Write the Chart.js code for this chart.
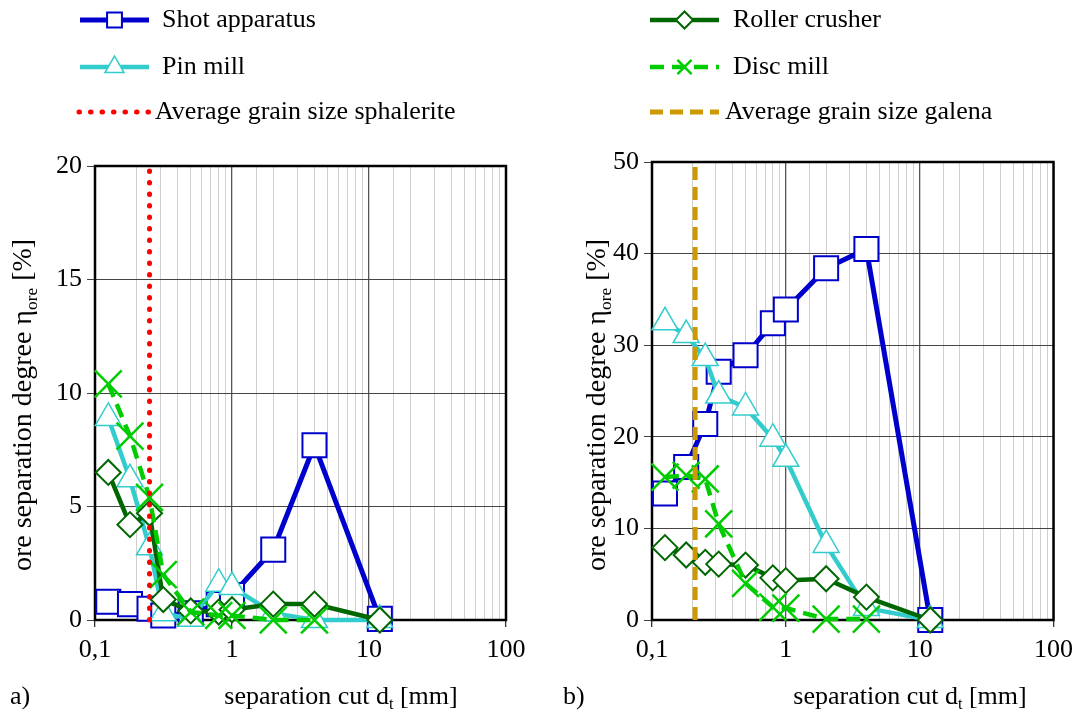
<!DOCTYPE html>
<html>
<head>
<meta charset="utf-8">
<script src="https://cdn.jsdelivr.net/npm/chart.js@4.4.1/dist/chart.umd.min.js"></script>
<style>
  html, body { margin: 0; padding: 0; background: #fff; }
  #wrap { position: relative; width: 1081px; height: 715px; }
  #left { position: absolute; left: 0; top: 0; }
  #right { position: absolute; left: 540px; top: 0; }
</style>
</head>
<body>
<div id="wrap">
  <canvas id="left" width="540" height="715"></canvas>
  <canvas id="right" width="541" height="715"></canvas>
</div>
<script>
// separation cuts d_t [mm]
const sizes = [0.125, 0.18, 0.25, 0.315, 0.5, 0.8, 1, 2, 4, 12];

// a) sphalerite, ore separation degree [%]
const shotA = [0.8, 0.7, 0.5, 0.2, 0.3, 0.7, 1.1, 3.1, 7.7, 0.05];
const pinA = [8.9, 6.2, 3.2, 0.3, 0.05, 1.6, 1.45, 0.3, 0.0, 0.0];
const rollerA = [6.5, 4.2, 4.7, 0.9, 0.4, 0.35, 0.45, 0.7, 0.7, 0.0];
const discA = [10.4, 8.1, 5.4, 2.0, 0.35, 0.2, 0.2, 0.0, 0.0];
const grainSphalerite = 0.25;

// b) galena
const shotB = [13.8, 16.7, 21.4, 27.1, 28.9, 32.4, 33.9, 38.4, 40.5, 0.0];
const pinB = [32.5, 31.1, 28.6, 24.5, 23.2, 19.8, 17.6, 8.2, 1.3, 0.0];
const rollerB = [7.9, 7.1, 6.3, 6.1, 6.0, 4.6, 4.3, 4.5, 2.5, 0.0];
const discB = [15.6, 15.8, 15.4, 10.5, 4.0, 1.4, 1.3, 0.1, 0.1];
const grainGalena = 0.21;

const FONT = "'Liberation Serif', 'Times New Roman', serif";
Chart.defaults.font.family = FONT;
Chart.defaults.font.size = 26;
Chart.defaults.color = '#000';

function pts(arr) {
  return arr.map((v, i) => ({ x: sizes[i], y: v }));
}

function isDecade(v) {
  const l = Math.log10(v);
  return Math.abs(l - Math.round(l)) < 1e-6;
}

function seriesSets(shot, pin, roller, disc, grain, ymax, lineName, lineColor, lineDash, lineCap) {
  return [
    {
      label: 'Shot apparatus', data: pts(shot), order: 4,
      borderColor: '#0000CC', borderWidth: 5,
      pointStyle: 'rect', pointRadius: 17, pointBorderWidth: 2,
      pointBackgroundColor: '#fff', pointBorderColor: '#0000CC', legendRadius: 10.5
    },
    {
      label: 'Pin mill', data: pts(pin), order: 3,
      borderColor: '#33CCCC', borderWidth: 4.5,
      pointStyle: 'triangle', pointRadius: 15, pointBorderWidth: 1.5,
      pointBackgroundColor: '#fff', pointBorderColor: '#33CCCC', legendRadius: 11
    },
    {
      label: 'Roller crusher', data: pts(roller), order: 2,
      borderColor: '#006600', borderWidth: 4.5,
      pointStyle: 'rectRot', pointRadius: 12.5, pointBorderWidth: 2,
      pointBackgroundColor: '#fff', pointBorderColor: '#006600', legendRadius: 8.5
    },
    {
      label: 'Disc mill', data: pts(disc), order: 1,
      borderColor: '#00CC00', borderWidth: 4.5, borderDash: [14, 8],
      pointStyle: 'crossRot', pointRadius: 19, pointBorderWidth: 2.5,
      pointBackgroundColor: '#00CC00', pointBorderColor: '#00CC00', legendRadius: 10
    },
    {
      label: lineName, data: [{ x: grain, y: 0 }, { x: grain, y: ymax }], order: 0,
      borderColor: lineColor, borderWidth: 5, borderDash: lineDash, borderCapStyle: lineCap,
      pointRadius: 0
    }
  ];
}

function drawRich(ctx, parts, x, y, size) {
  let total = 0;
  parts.forEach(p => {
    ctx.font = (p.sub ? size * 0.62 : size) + 'px ' + FONT;
    p.w = ctx.measureText(p.t).width;
    total += p.w;
  });
  let cx = x - total / 2;
  ctx.textAlign = 'left';
  ctx.textBaseline = 'middle';
  parts.forEach(p => {
    ctx.font = (p.sub ? size * 0.62 : size) + 'px ' + FONT;
    ctx.fillText(p.t, cx, y + (p.sub ? size * 0.3 : 0));
    cx += p.w;
  });
}

const decor = {
  id: 'decor',
  beforeDatasetsDraw(chart) {
    const { ctx, chartArea: a } = chart;
    ctx.save();
    ctx.strokeStyle = '#000';
    ctx.lineWidth = 2.5;
    ctx.strokeRect(a.left, a.top, a.right - a.left, a.bottom - a.top);
    ctx.restore();
  },
  afterDraw(chart, args, opts) {
    const ctx = chart.ctx;
    ctx.save();
    ctx.fillStyle = '#000';

    // y title
    ctx.save();
    ctx.translate(opts.yTitleX, opts.yTitleY);
    ctx.rotate(-Math.PI / 2);
    drawRich(ctx, [{ t: 'ore separation degree η' }, { t: 'ore', sub: true }, { t: ' [%]' }], 0, 0, 28);
    ctx.restore();

    // x title and panel tag
    drawRich(ctx, [{ t: 'separation cut d' }, { t: 't', sub: true }, { t: ' [mm]' }], opts.xTitleX, opts.xTitleY, 26);
    ctx.font = '26px ' + FONT;
    ctx.textAlign = 'left';
    ctx.textBaseline = 'middle';
    ctx.fillText(opts.tag, opts.tagX, opts.xTitleY);

    // legend column
    opts.rows.forEach(r => {
      const ds = chart.data.datasets[r.ds];
      ctx.save();
      ctx.strokeStyle = ds.borderColor;
      ctx.lineWidth = ds.borderWidth;
      ctx.lineCap = ds.borderCapStyle || 'butt';
      ctx.setLineDash(ds.borderDash || []);
      ctx.beginPath();
      ctx.moveTo(r.x0, r.y);
      ctx.lineTo(r.x1, r.y);
      ctx.stroke();
      ctx.setLineDash([]);
      if (ds.pointRadius > 0) {
        ctx.fillStyle = ds.pointStyle === 'crossRot' ? ds.pointBorderColor : '#fff';
        ctx.strokeStyle = ds.pointBorderColor;
        ctx.lineWidth = ds.pointBorderWidth;
        Chart.helpers.drawPoint(ctx, {
          pointStyle: ds.pointStyle, rotation: 0,
          radius: ds.legendRadius, borderWidth: ds.pointBorderWidth
        }, (r.x0 + r.x1) / 2, r.y);
      }
      ctx.restore();
      ctx.font = '26px ' + FONT;
      ctx.fillStyle = '#000';
      ctx.textAlign = 'left';
      ctx.textBaseline = 'middle';
      ctx.fillText(ds.label, r.tx, r.y);
    });
    ctx.restore();
  }
};

function makeChart(id, datasets, ymax, step, pad, yWidth, decorOpts) {
  return new Chart(document.getElementById(id), {
    type: 'line',
    data: { datasets },
    plugins: [decor],
    options: {
      responsive: false,
      animation: false,
      events: [],
      devicePixelRatio: 1,
      layout: { padding: pad },
      datasets: { line: { clip: false, tension: 0 } },
      plugins: {
        legend: { display: false },
        tooltip: { enabled: false },
        decor: decorOpts
      },
      scales: {
        x: {
          type: 'logarithmic', min: 0.1, max: 100,
          afterFit: s => { s.height = 95; },
          border: { display: false },
          grid: {
            color: c => (c.tick && isDecade(c.tick.value)) ? '#555' : '#cfcfcf',
            lineWidth: c => (c.tick && isDecade(c.tick.value)) ? 1.3 : 1,
            tickColor: c => (c.tick && isDecade(c.tick.value)) ? '#333' : 'rgba(0,0,0,0)',
            tickLength: 7
          },
          ticks: {
            autoSkip: false, maxRotation: 0, padding: 8,
            callback: v => isDecade(v) ? (v < 1 ? String(v).replace('.', ',') : String(v)) : ''
          }
        },
        y: {
          min: 0, max: ymax,
          afterFit: s => { s.width = yWidth; },
          border: { display: false },
          grid: { color: '#444', lineWidth: 1, tickColor: '#444', tickLength: 8 },
          ticks: { stepSize: step, padding: 5 }
        }
      }
    }
  });
}

makeChart('left',
  seriesSets(shotA, pinA, rollerA, discA, grainSphalerite, 20,
    'Average grain size sphalerite', '#FF0000', [0.5, 11], 'round'),
  20, 5, { top: 166, right: 34, left: 0, bottom: 0 }, 95,
  {
    yTitleX: 24, yTitleY: 405, xTitleX: 341, xTitleY: 697, tag: 'a)', tagX: 10,
    rows: [
      { ds: 0, y: 20, x0: 80, x1: 149, tx: 162 },
      { ds: 1, y: 67, x0: 80, x1: 149, tx: 162 },
      { ds: 4, y: 112, x0: 79, x1: 149, tx: 155 }
    ]
  });

makeChart('right',
  seriesSets(shotB, pinB, rollerB, discB, grainGalena, 50,
    'Average grain size galena', '#CC9900', [13, 7], 'butt'),
  50, 10, { top: 162, right: 22, left: 0, bottom: 0 }, 112,
  {
    yTitleX: 58, yTitleY: 405, xTitleX: 370, xTitleY: 697, tag: 'b)', tagX: 23,
    rows: [
      { ds: 2, y: 20, x0: 110, x1: 179, tx: 193 },
      { ds: 3, y: 67, x0: 110, x1: 179, tx: 193 },
      { ds: 4, y: 112, x0: 110, x1: 179, tx: 185 }
    ]
  });
</script>
</body>
</html>
